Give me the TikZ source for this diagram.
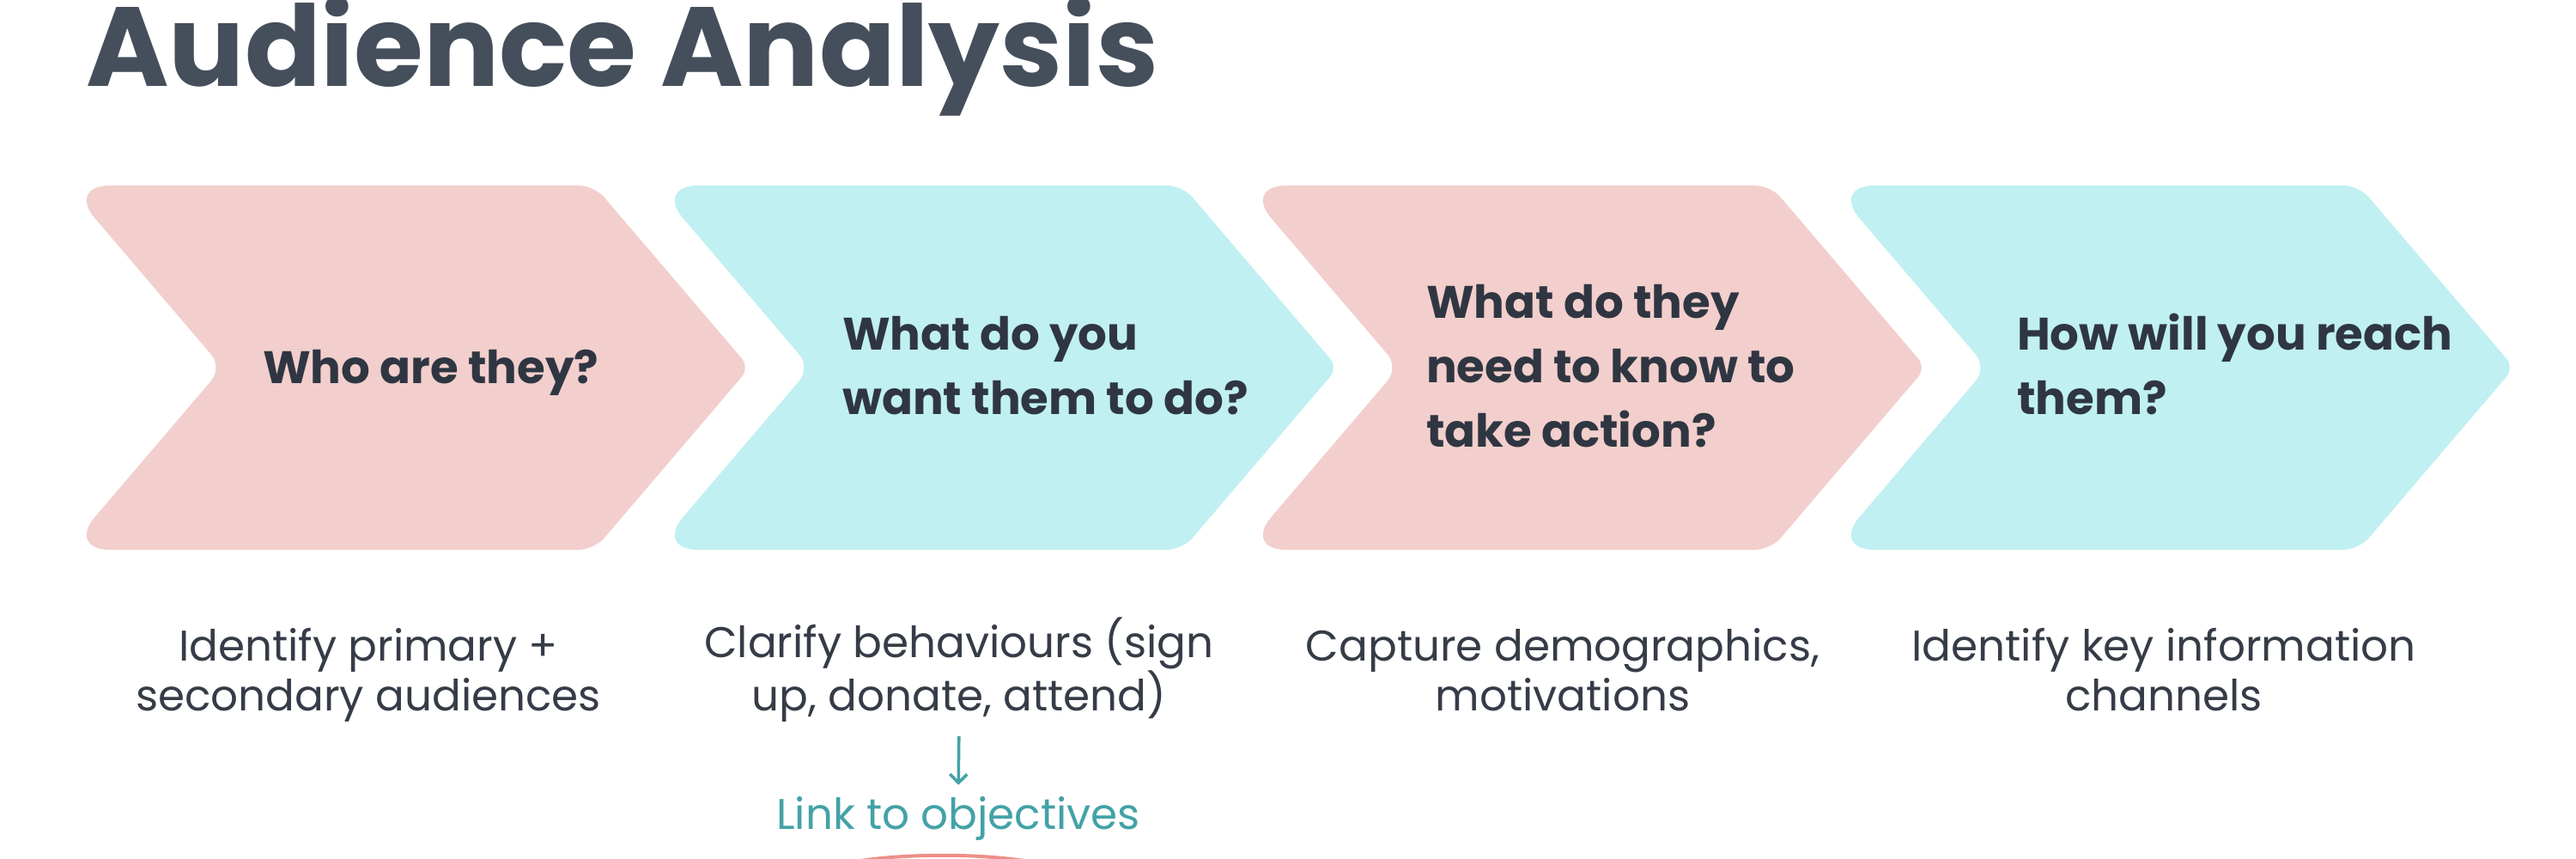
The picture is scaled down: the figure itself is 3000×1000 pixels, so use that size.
\documentclass[tikz,border=0pt]{standalone}
\usepackage{fontspec}
\setmainfont{Poppins}
\usetikzlibrary{calc,arrows.meta}
\definecolor{pinkc}{HTML}{F2CFCC}
\definecolor{bluec}{HTML}{C0F0F2}
\definecolor{titlec}{HTML}{454F5B}
\definecolor{darktext}{HTML}{2F3642}
\definecolor{bodytext}{HTML}{363C47}
\definecolor{tealc}{HTML}{43A2A7}
\definecolor{arcc}{HTML}{EC8F87}
\begin{document}
\begin{tikzpicture}[x=1pt,y=-1pt,
  rc/.style n args={5}{insert path={-- ($(#2)!#4!(#1)$) .. controls ($(#2)!#5!(#1)$) and ($(#2)!#5!(#3)$) .. ($(#2)!#4!(#3)$)}},
  steplabel/.style={font=\fontsize{53}{75}\selectfont\bfseries, text=darktext, align=left, anchor=base west, inner sep=0pt},
  desc/.style={font=\fontsize{50}{58}\selectfont, text=bodytext, align=center, anchor=base, inner sep=0pt},
  linklabel/.style={font=\fontsize{50}{58}\selectfont, text=tealc, anchor=base, inner sep=0pt},
]
\useasboundingbox (0,0) rectangle (3000,1000);
\fill[white] (0,0) rectangle (3000,1000);
\foreach \i/\c in {0/pinkc,1/bluec,2/pinkc,3/bluec}{
  \pgfmathsetmacro\o{\i*685}
  \coordinate (TL) at (\o+78,216);
  \coordinate (TR) at (\o+692,216);
  \coordinate (T)  at (\o+873,428);
  \coordinate (BR) at (\o+692,640);
  \coordinate (BL) at (\o+78,640);
  \coordinate (N)  at (\o+259,428);
  \fill[\c] ($(TL)!0.5!(TR)$)
    [rc={TL}{TR}{T}{18pt}{8pt}]
    [rc={TR}{T}{BR}{14pt}{6.3pt}]
    [rc={T}{BR}{BL}{18pt}{8pt}]
    [rc={BR}{BL}{N}{50pt}{22.4pt}]
    [rc={BL}{N}{TL}{20pt}{9pt}]
    [rc={N}{TL}{TR}{50pt}{22.4pt}] -- cycle;
}
\node[font=\fontsize{131}{131}\selectfont\bfseries, text=titlec, anchor=base west, inner sep=0pt] (title) at (100,101) {Audience Analysis};
% base anchor of a multi-line node = baseline of its last line
\node[steplabel] (q1) at (306,446) {Who are they?};
\node[steplabel] (q2) at (981,482) {What do you\\want them to do?};
\node[steplabel] (q3) at (1661,520) {What do they\\need to know to\\take action?};
\node[steplabel] (q4) at (2349,482) {How will you reach\\them?};
\node[desc] (d1) at (429,827) {Identify primary +\\secondary audiences};
\node[desc] (d2) at (1117,827) {Clarify behaviours (sign\\up, donate, attend)};
\node[desc] (d3) at (1820,827) {Capture demographics,\\motivations};
\node[desc] (d4) at (2520,827) {Identify key information\\channels};
\node[linklabel] (link) at (1116,965) {Link to objectives};
\draw[tealc, line width=3.5pt, shorten <=17pt, shorten >=13pt, -{Straight Barb[length=10pt,width=20pt]}] (d2.south) -- (link.north);
\draw[arcc, line width=4pt] (990,1004) .. controls (1050,993) and (1145,993) .. (1205,1004);
\end{tikzpicture}
\end{document}
